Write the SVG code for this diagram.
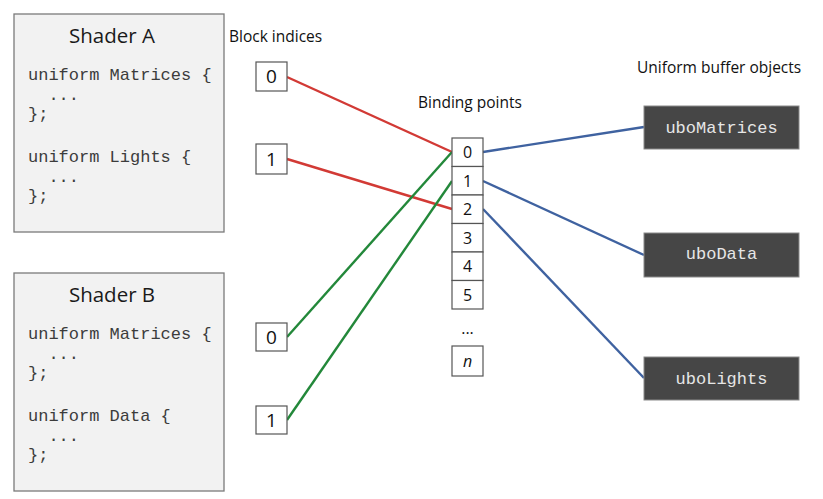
<svg xmlns="http://www.w3.org/2000/svg" width="823" height="499" viewBox="0 0 823 499">
<style>
.shader{fill:#f2f2f2;stroke:#7a7a7a;stroke-width:1.3}
.title{font-family:"Open Sans","Noto Sans",sans-serif;font-size:20.5px;fill:#1a1a1a;text-anchor:middle}
.code{font-family:"Liberation Mono",monospace;font-size:17px;fill:#3c3c3c;white-space:pre}
.lbl{font-family:"Open Sans","Noto Sans",sans-serif;font-size:15.5px;fill:#111}
.idx{fill:#fff;stroke:#555;stroke-width:1.2}
.num{font-family:"Open Sans","Noto Sans",sans-serif;font-size:19px;fill:#111;text-anchor:middle}
.bnum{font-family:"Open Sans","Noto Sans",sans-serif;font-size:16px;fill:#111;text-anchor:middle}
.ubo{fill:#464646;stroke:#8a8a8a;stroke-width:1}
.ubot{font-family:"Liberation Mono",monospace;font-size:17px;fill:#e6e6e6;text-anchor:middle}
.red{stroke:#d23a35;stroke-width:2.4;fill:none}
.green{stroke:#23883a;stroke-width:2.4;fill:none}
.blue{stroke:#3f62a0;stroke-width:2.4;fill:none}
</style>
<rect width="823" height="499" fill="#fff"/>
<g id="connectors">
<line class="red" x1="287" y1="77" x2="452" y2="152"/>
<line class="red" x1="287" y1="159" x2="452" y2="209"/>
<line class="green" x1="287" y1="337" x2="452" y2="152"/>
<line class="green" x1="287" y1="420" x2="452" y2="181"/>
<line class="blue" x1="483" y1="152" x2="644" y2="127"/>
<line class="blue" x1="483" y1="181" x2="644" y2="255"/>
<line class="blue" x1="483" y1="209" x2="644" y2="378"/>
</g>
<g id="shaderA">
<rect class="shader" x="14" y="14" width="210" height="218"/>
<text class="title" x="112" y="43">Shader A</text>
<text class="code" x="28" y="80">uniform Matrices {</text>
<text class="code" x="28" y="100" xml:space="preserve">  ...</text>
<text class="code" x="28" y="119">};</text>
<text class="code" x="28" y="162">uniform Lights {</text>
<text class="code" x="28" y="182" xml:space="preserve">  ...</text>
<text class="code" x="28" y="201">};</text>
</g>
<g id="shaderB">
<rect class="shader" x="14" y="273" width="210" height="218"/>
<text class="title" x="112" y="302">Shader B</text>
<text class="code" x="28" y="339">uniform Matrices {</text>
<text class="code" x="28" y="359" xml:space="preserve">  ...</text>
<text class="code" x="28" y="378">};</text>
<text class="code" x="28" y="421">uniform Data {</text>
<text class="code" x="28" y="441" xml:space="preserve">  ...</text>
<text class="code" x="28" y="460">};</text>
</g>
<g id="blockIndicesLabel"><text class="lbl" x="229" y="42">Block indices</text></g>
<g id="idxA0"><rect class="idx" x="256" y="62" width="31" height="29"/><text class="num" x="271.5" y="83">0</text></g>
<g id="idxA1"><rect class="idx" x="256" y="144" width="31" height="30"/><text class="num" x="271.5" y="166">1</text></g>
<g id="idxB0"><rect class="idx" x="256" y="323" width="31" height="28"/><text class="num" x="271.5" y="344">0</text></g>
<g id="idxB1"><rect class="idx" x="256" y="406" width="31" height="28"/><text class="num" x="271.5" y="427">1</text></g>
<g id="bindingLabel"><text class="lbl" x="418" y="108">Binding points</text></g>
<g id="bindingPoints">
<rect class="idx" x="452" y="138" width="31" height="28.5"/><text class="bnum" x="467.5" y="158">0</text>
<rect class="idx" x="452" y="166.5" width="31" height="28.5"/><text class="bnum" x="467.5" y="186.5">1</text>
<rect class="idx" x="452" y="195" width="31" height="28.5"/><text class="bnum" x="467.5" y="215">2</text>
<rect class="idx" x="452" y="223.5" width="31" height="28.5"/><text class="bnum" x="467.5" y="243.5">3</text>
<rect class="idx" x="452" y="252" width="31" height="28.5"/><text class="bnum" x="467.5" y="272">4</text>
<rect class="idx" x="452" y="280.5" width="31" height="28.5"/><text class="bnum" x="467.5" y="300.5">5</text>
<text class="bnum" x="467.5" y="334">...</text>
<rect class="idx" x="452" y="346" width="31" height="30"/><text class="bnum" x="467.5" y="367" font-style="italic">n</text>
</g>
<g id="uboLabel"><text class="lbl" x="637" y="73">Uniform buffer objects</text></g>
<g id="uboMatrices"><rect class="ubo" x="644" y="106" width="155" height="43"/><text class="ubot" x="721.5" y="133">uboMatrices</text></g>
<g id="uboData"><rect class="ubo" x="644" y="233" width="155" height="44"/><text class="ubot" x="721.5" y="259">uboData</text></g>
<g id="uboLights"><rect class="ubo" x="644" y="357" width="155" height="43"/><text class="ubot" x="721.5" y="384">uboLights</text></g>
</svg>
